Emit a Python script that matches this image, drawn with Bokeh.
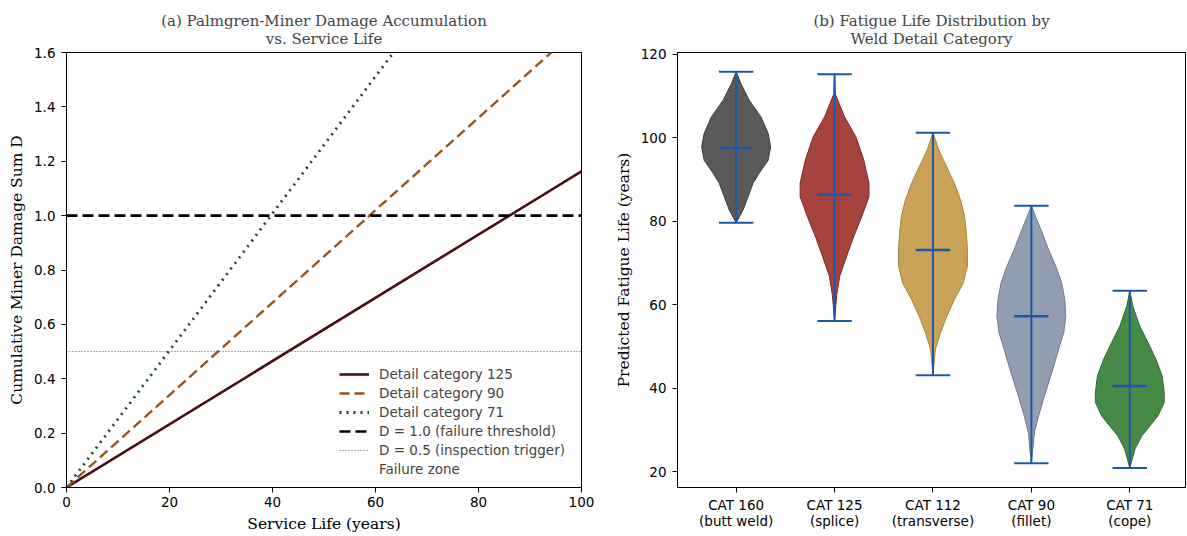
from bokeh.plotting import figure
from bokeh.layouts import row
from bokeh.models import (Legend, LegendItem, FixedTicker, NumeralTickFormatter, Range1d)
from bokeh.embed import file_html
from bokeh.resources import INLINE

# ---------------- Panel (a) data ----------------
years = [0, 100]
dmg_cat125 = [0.0, 1.163]
dmg_cat90 = [0.0, 1.70]
dmg_cat71 = [0.0, 2.52]
failure_level = [1.0, 1.0]
inspection_level = [0.5, 0.5]
failure_zone_top = [1.6, 1.6]
x_ticks_a = [0, 20, 40, 60, 80, 100]
y_ticks_a = [0.0, 0.2, 0.4, 0.6, 0.8, 1.0, 1.2, 1.4, 1.6]

# ---------------- Panel (b) data ----------------
cat_labels = ["CAT 160\n(butt weld)", "CAT 125\n(splice)", "CAT 112\n(transverse)",
              "CAT 90\n(fillet)", "CAT 71\n(cope)"]
cat_pos = [1, 2, 3, 4, 5]
life_min = [79.6, 56.1, 43.1, 22.0, 20.9]
life_max = [115.8, 115.2, 101.2, 83.7, 63.3]
life_median = [97.5, 86.3, 73.1, 57.2, 40.5]
y_ticks_b = [20, 40, 60, 80, 100, 120]

# violin outlines: life values and relative width (0..1)
v160_y = [115.8, 112.9, 108.95, 104.96, 101.0, 97.8, 94.6, 91.5, 89.1, 85.9, 82.7, 79.6]
v160_w = [0.0, 0.14, 0.38, 0.72, 0.93, 1.0, 0.93, 0.67, 0.49, 0.35, 0.2, 0.0]
v125_y = [115.2, 110.5, 104.96, 100.2, 94.6, 89.1, 85.9, 81.1, 76.4, 71.6, 66.8, 62.1, 56.1]
v125_w = [0.0, 0.02, 0.29, 0.62, 0.85, 1.0, 1.0, 0.79, 0.56, 0.35, 0.15, 0.06, 0.0]
v112_y = [101.2, 97.0, 93.0, 89.1, 85.1, 81.1, 77.1, 73.15, 69.2, 65.2, 61.2, 57.2, 53.3, 49.3, 43.1]
v112_w = [0.0, 0.17, 0.4, 0.62, 0.8, 0.92, 0.97, 1.0, 1.0, 0.88, 0.62, 0.4, 0.22, 0.07, 0.0]
v90_y = [83.7, 81.1, 77.1, 73.15, 69.2, 65.2, 61.2, 57.2, 53.3, 49.3, 45.3, 41.3, 37.35, 33.4, 29.4, 22.0]
v90_w = [0.0, 0.12, 0.32, 0.5, 0.71, 0.88, 0.97, 1.0, 0.94, 0.79, 0.65, 0.5, 0.35, 0.21, 0.09, 0.0]
v71_y = [63.3, 59.6, 54.85, 50.9, 46.9, 42.9, 38.95, 36.6, 33.4, 31.0, 28.6, 25.4, 20.9]
v71_w = [0.0, 0.09, 0.29, 0.53, 0.76, 0.94, 1.0, 1.0, 0.82, 0.59, 0.35, 0.15, 0.0]
violin_profiles = [(v160_y, v160_w), (v125_y, v125_w), (v112_y, v112_w), (v90_y, v90_w), (v71_y, v71_w)]
violin_fill = ["#5a5a5a", "#a6433f", "#c9a157", "#939db1", "#478a47"]
violin_edge = ["#3c3c3c", "#7a2a28", "#a8843e", "#6f7a8e", "#2f6a30"]

SANS = "DejaVu Sans"
SERIF = "DejaVu Serif"
TICK_FS = "13.5px"
LABEL_FS = "15.5px"
TITLE_FS = "15px"


def style_axes(p):
    for ax in (p.xaxis[0], p.yaxis[0]):
        ax.major_tick_out = 5
        ax.major_tick_in = 0
        ax.minor_tick_line_color = None
        ax.axis_line_color = "black"
        ax.major_tick_line_color = "black"
        ax.major_label_text_font = SANS
        ax.major_label_text_font_size = TICK_FS
        ax.major_label_text_color = "black"
        ax.axis_label_text_font = SERIF
        ax.axis_label_text_font_size = LABEL_FS
        ax.axis_label_text_font_style = "normal"
        ax.axis_label_text_color = "black"
        ax.axis_label_standoff = 5
    p.xaxis.major_label_standoff = 4
    p.yaxis.major_label_standoff = 6
    p.xgrid.visible = False
    p.ygrid.visible = False
    p.outline_line_color = "black"
    p.outline_line_width = 1
    p.outline_line_alpha = 1


def set_title(p, text):
    p.title.text = text
    p.title.align = "center"
    p.title.text_align = "center"
    p.title.text_font = SERIF
    p.title.text_font_size = TITLE_FS
    p.title.text_font_style = "normal"
    p.title.text_line_height = 1.05
    p.title.standoff = 8


# ---------------- Figure (a) ----------------
pa = figure(width=611, height=535, x_range=Range1d(0, 100), y_range=Range1d(0, 1.6),
            output_backend="svg", toolbar_location=None,
            min_border_left=66, min_border_right=30, min_border_top=52, min_border_bottom=46)
set_title(pa, "(a) Palmgren-Miner Damage Accumulation\nvs. Service Life")

r125 = pa.line(years, dmg_cat125, line_color="#4a0e12", line_width=2.6)
r90 = pa.line(years, dmg_cat90, line_color="#98561c", line_width=2.4, line_dash="10 5")
r71 = pa.line(years, dmg_cat71, line_color="#1c4a26", line_width=2.8, line_dash="2 5")
rfail = pa.line(years, failure_level, line_color="black", line_width=2.6, line_dash="11 5")
rinsp = pa.line(years, inspection_level, line_color="#555555", line_width=1, line_dash="1 2")
rzone = pa.varea(x=years, y1=failure_level, y2=failure_zone_top, fill_alpha=0.0, fill_color="red")

legend = Legend(items=[
    LegendItem(label="Detail category 125", renderers=[r125]),
    LegendItem(label="Detail category 90", renderers=[r90]),
    LegendItem(label="Detail category 71", renderers=[r71]),
    LegendItem(label="D = 1.0 (failure threshold)", renderers=[rfail]),
    LegendItem(label="D = 0.5 (inspection trigger)", renderers=[rinsp]),
    LegendItem(label="Failure zone", renderers=[rzone]),
], location=(267, 4))
legend.margin = 0
legend.padding = 6
legend.spacing = 3
legend.glyph_width = 30
legend.glyph_height = 16
legend.label_height = 16
legend.label_standoff = 10
legend.label_text_font = SANS
legend.label_text_font_size = "13.5px"
legend.border_line_alpha = 0.0
legend.background_fill_alpha = 0.85
pa.add_layout(legend)

style_axes(pa)
pa.xaxis.axis_label = "Service Life (years)"
pa.yaxis.axis_label = "Cumulative Miner Damage Sum D"
pa.xaxis.ticker = FixedTicker(ticks=x_ticks_a)
pa.yaxis.ticker = FixedTicker(ticks=y_ticks_a)
pa.yaxis.formatter = NumeralTickFormatter(format="0.0")

# ---------------- Figure (b) ----------------
pb = figure(width=575, height=535, x_range=Range1d(0.404, 5.566), y_range=Range1d(16.2, 120.4),
            output_backend="svg", toolbar_location=None,
            min_border_left=62, min_border_right=1, min_border_top=52, min_border_bottom=46)
set_title(pb, "(b) Fatigue Life Distribution by\nWeld Detail Category")

HALF = 0.35
for pos, (vy, vw), fc, ec in zip(cat_pos, violin_profiles, violin_fill, violin_edge):
    xs = [pos + HALF * w for w in vw] + [pos - HALF * w for w in reversed(vw)]
    ys = list(vy) + list(reversed(vy))
    pb.patch(xs, ys, fill_color=fc, fill_alpha=1.0, line_color=ec, line_width=1)

CAP = 0.175
line_blue = "#1d57a8"
pb.segment(x0=cat_pos, y0=life_min, x1=cat_pos, y1=life_max, line_color=line_blue, line_width=2)
pb.segment(x0=[c - CAP for c in cat_pos], y0=life_min, x1=[c + CAP for c in cat_pos], y1=life_min,
           line_color=line_blue, line_width=2)
pb.segment(x0=[c - CAP for c in cat_pos], y0=life_max, x1=[c + CAP for c in cat_pos], y1=life_max,
           line_color=line_blue, line_width=2)
pb.segment(x0=[c - CAP for c in cat_pos], y0=life_median, x1=[c + CAP for c in cat_pos], y1=life_median,
           line_color=line_blue, line_width=2.5)

style_axes(pb)
pb.yaxis.axis_label = "Predicted Fatigue Life (years)"
pb.xaxis.ticker = FixedTicker(ticks=cat_pos)
pb.xaxis.major_label_overrides = {p: lab for p, lab in zip(cat_pos, cat_labels)}
pb.xaxis.major_label_text_line_height = 1.0
pb.yaxis.ticker = FixedTicker(ticks=y_ticks_b)

layout = row(pa, pb, spacing=0)
open("out.html", "w").write(file_html(layout, INLINE))
